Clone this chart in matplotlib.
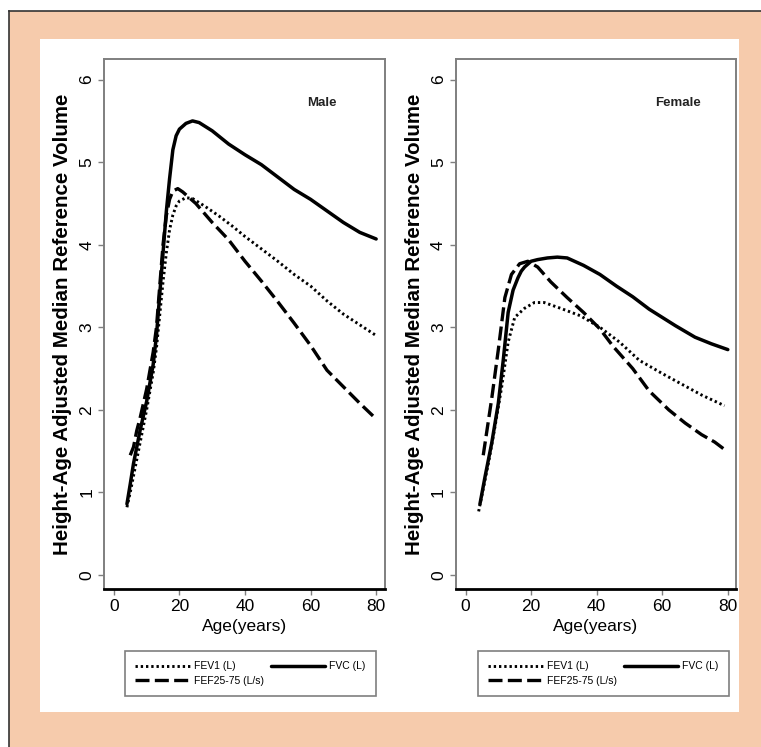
import matplotlib
matplotlib.use("Agg")
import matplotlib.pyplot as plt
from matplotlib.patches import Rectangle
from matplotlib.lines import Line2D

# ---------------- data ----------------
male_fvc_age = [4, 5, 6, 8, 10, 12, 13, 14, 15, 16, 17, 18, 19, 20, 22, 24, 26, 30, 35, 40, 45, 50, 55, 60, 65, 70, 75, 80]
male_fvc = [0.86, 1.1, 1.35, 1.75, 2.1, 2.55, 2.9, 3.4, 3.9, 4.4, 4.8, 5.15, 5.32, 5.4, 5.47, 5.5, 5.48, 5.38, 5.22, 5.09, 4.97, 4.82, 4.67, 4.55, 4.41, 4.27, 4.15, 4.07]

male_fev1_age = [4, 5, 6, 8, 10, 12, 13, 14, 15, 16, 17, 18, 19, 20, 22, 24, 28, 32, 36, 40, 45, 50, 55, 60, 65, 70, 75, 80]
male_fev1 = [0.82, 1.0, 1.2, 1.6, 2.0, 2.45, 2.75, 3.15, 3.55, 3.9, 4.18, 4.36, 4.47, 4.53, 4.57, 4.56, 4.46, 4.35, 4.23, 4.10, 3.95, 3.80, 3.64, 3.50, 3.32, 3.16, 3.03, 2.90]

male_fef_age = [5, 6, 7, 8, 10, 12, 13, 14, 15, 16, 17, 18, 19.5, 21, 23, 25, 30, 35, 40, 45, 50, 55, 60, 65, 70, 75, 80]
male_fef = [1.45, 1.55, 1.75, 1.9, 2.25, 2.7, 3.0, 3.5, 4.0, 4.35, 4.55, 4.65, 4.68, 4.64, 4.57, 4.5, 4.27, 4.06, 3.80, 3.56, 3.31, 3.05, 2.78, 2.48, 2.28, 2.08, 1.89]

female_fvc_age = [4.4, 6, 8, 10, 11.5, 13, 14.5, 16, 17, 18, 20, 22, 25, 28, 31, 36, 41, 46, 51, 56, 60, 64, 70, 75, 80]
female_fvc = [0.86, 1.2, 1.6, 2.08, 2.6, 3.18, 3.45, 3.6, 3.68, 3.73, 3.8, 3.82, 3.84, 3.85, 3.84, 3.75, 3.64, 3.5, 3.37, 3.22, 3.12, 3.02, 2.88, 2.8, 2.73]

female_fev1_age = [4, 7, 9, 11, 13, 15, 18, 21, 24, 29, 35, 41, 47, 53, 60, 66, 72, 79]
female_fev1 = [0.77, 1.36, 1.8, 2.27, 2.82, 3.12, 3.23, 3.3, 3.3, 3.23, 3.14, 3.0, 2.82, 2.6, 2.44, 2.31, 2.18, 2.05]

female_fef_age = [5.4, 8, 10, 12, 14, 16.5, 19, 22, 26, 31, 36, 41, 45, 51, 56, 62, 67, 72, 76, 79]
female_fef = [1.45, 2.14, 2.73, 3.36, 3.64, 3.77, 3.8, 3.73, 3.55, 3.36, 3.18, 2.98, 2.77, 2.5, 2.23, 2.0, 1.84, 1.7, 1.61, 1.52]

x_ticks = [0, 20, 40, 60, 80]
y_ticks = [0, 1, 2, 3, 4, 5, 6]
labels = ["FEV1 (L)", "FEF25-75 (L/s)", "FVC (L)"]
panel_titles = ["Male", "Female"]

# ---------------- style ----------------
plt.rcParams["font.family"] = ["Liberation Sans", "DejaVu Sans"]
PEACH = "#F6CBAC"
GRAY = "#7f7f7f"

W, H = 761, 747
fig = plt.figure(figsize=(W / 100, H / 100), dpi=100)
fig.patch.set_facecolor("white")

def fx(px):
    return px / W

def fy(py):
    return 1 - py / H

# peach background, white panel, border lines
fig.add_artist(Rectangle((fx(9), 0), 1 - fx(9), fy(11), transform=fig.transFigure,
                         facecolor=PEACH, edgecolor="none", zorder=-10))
fig.add_artist(Rectangle((fx(40), fy(712)), fx(739) - fx(40), fy(39) - fy(712),
                         transform=fig.transFigure, facecolor="white", edgecolor="none", zorder=-9))
fig.add_artist(Line2D([fx(8.5), fx(8.5)], [0, fy(10.5)], transform=fig.transFigure,
                      color="#333333", lw=1.2))
fig.add_artist(Line2D([fx(8.5), 1], [fy(10.5), fy(10.5)], transform=fig.transFigure,
                      color="#333333", lw=1.2))

panels = [
    (104, 385, (male_fev1_age, male_fev1), (male_fef_age, male_fef), (male_fvc_age, male_fvc), 125, 63.5),
    (455.7, 736, (female_fev1_age, female_fev1), (female_fef_age, female_fef), (female_fvc_age, female_fvc), 478, 64.8),
]

for i, (x0, x1, fev, fef, fvc, leg_x, title_x) in enumerate(panels):
    ax = fig.add_axes([fx(x0), fy(589), fx(x1) - fx(x0), fy(59) - fy(589)])
    l1, = ax.plot(fev[0], fev[1], color="black", lw=2.1, linestyle=(0, (0.8, 1.0)),
                  dash_capstyle="butt", label=labels[0])
    l2, = ax.plot(fef[0], fef[1], color="black", lw=2.4, linestyle=(0, (4.2, 1.6)),
                  label=labels[1])
    l3, = ax.plot(fvc[0], fvc[1], color="black", lw=2.5, solid_capstyle="round",
                  label=labels[2])

    ax.set_xlim(-3, 82.7 if i == 0 else 82.5)
    ax.set_ylim(-0.17, 6.25)
    ax.set_xticks(x_ticks)
    ax.set_yticks(y_ticks)
    ax.set_xticklabels([str(t) for t in x_ticks], fontsize=12.5)
    ax.set_yticklabels([str(t) for t in y_ticks], fontsize=12.5,
                       rotation=90, va="center")
    ax.tick_params(axis="both", colors=GRAY, labelcolor="black", length=4, width=1)
    ax.tick_params(axis="x", pad=3)
    ax.tick_params(axis="y", pad=3)
    for side in ["left", "top", "right"]:
        ax.spines[side].set_color(GRAY)
        ax.spines[side].set_linewidth(1.4)
    ax.spines["bottom"].set_color("black")
    ax.spines["bottom"].set_linewidth(2.0)

    ax.set_xlabel("Age(years)", fontsize=12.5, labelpad=4)
    ax.set_ylabel("Height-Age Adjusted Median Reference Volume", fontsize=14.8,
                  fontweight="bold", labelpad=5)
    ax.text(title_x, 5.72, panel_titles[i], fontsize=9.5,
            fontweight="bold", color="#222222", ha="center", va="center")

    leg = ax.legend(handles=[l1, l2, l3], labels=labels, ncol=2,
                    loc="upper left", bbox_to_anchor=(fx(leg_x), fy(651)),
                    bbox_transform=fig.transFigure, prop={"size": 7.5},
                    handlelength=5.2, handletextpad=0.4, columnspacing=0.7,
                    labelspacing=0.4, borderpad=1.0, fancybox=False,
                    framealpha=1, edgecolor=GRAY, borderaxespad=0)
    leg.get_frame().set_linewidth(1.2)

fig.savefig("out.png", dpi=100, facecolor=fig.get_facecolor())
